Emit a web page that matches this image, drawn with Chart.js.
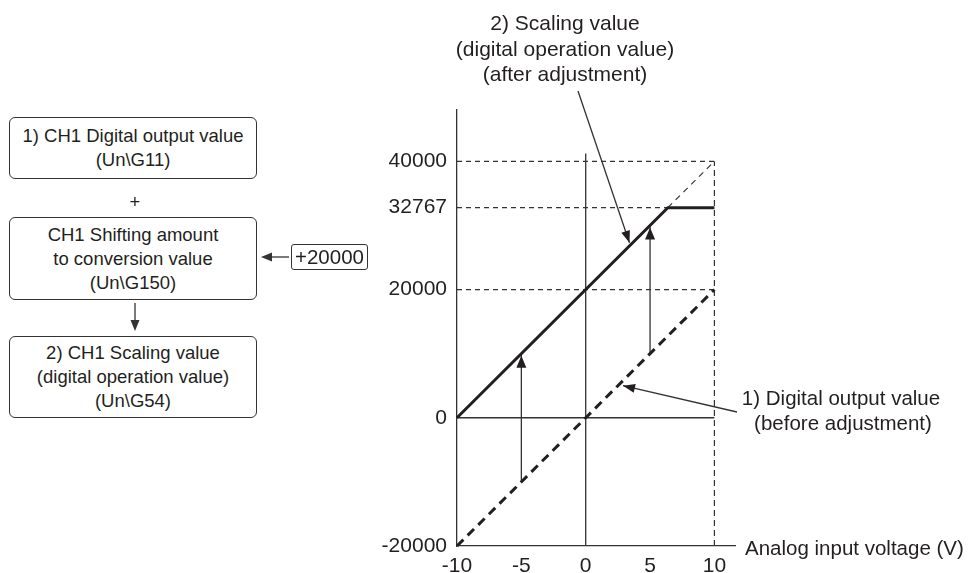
<!DOCTYPE html>
<html>
<head>
<meta charset="utf-8">
<script src="https://cdn.jsdelivr.net/npm/chart.js@4.4.1/dist/chart.umd.min.js"></script>
<style>
  html, body { margin: 0; padding: 0; background: #fff; }
  #wrap { position: relative; width: 974px; height: 573px; overflow: hidden; font-family: "Liberation Sans", Arial, sans-serif; color: #231f20; }
  #chart { position: absolute; left: 0; top: 0; }
  .box { position: absolute; box-sizing: border-box; border: 1.3px solid #333; border-radius: 6px;
         display: flex; align-items: center; justify-content: center; text-align: center;
         font-size: 18.5px; line-height: 24px; background: #fff; }
  .plus { position: absolute; font-size: 18.5px; line-height: 20px; transform: translate(-50%, -50%); }
  .shift { position: absolute; box-sizing: border-box; border: 1.3px solid #333; border-radius: 3px;
           font-size: 20.5px; line-height: 24px; text-align: center; }
  svg { position: absolute; left: 0; top: 0; }
</style>
</head>
<body>
<div id="wrap">
  <canvas id="chart" width="974" height="573"></canvas>
  <div class="box" style="left:9px;top:117px;width:248px;height:62px;">1) CH1 Digital output value<br>(Un\G11)</div>
  <div class="plus" style="left:135px;top:202px;">+</div>
  <div class="box" style="left:9px;top:217px;width:248px;height:83px;">CH1 Shifting amount<br>to conversion value<br>(Un\G150)</div>
  <div class="box" style="left:9px;top:336px;width:248px;height:82px;">2) CH1 Scaling value<br>(digital operation value)<br>(Un\G54)</div>
  <div class="shift" style="left:291px;top:244px;width:77px;height:26px;">+20000</div>
  <svg width="974" height="573">
    <line x1="135" y1="303" x2="135" y2="322" stroke="#333" stroke-width="1.3"/>
    <polygon points="130.5,320 139.5,320 135,331" fill="#333"/>
    <line x1="289" y1="257" x2="270" y2="257" stroke="#333" stroke-width="1.3"/>
    <polygon points="272,252.5 272,261.5 261,257" fill="#333"/>
  </svg>
</div>
<script>
// ---- data ----
const xTickValues = [-10, -5, 0, 5, 10];
const yTickValues = [-20000, 0, 20000, 32767, 40000];
const voltage = [-10, 10];
const digitalOutput = [-20000, 20000];
const scalingVolt = [-10, 6.38, 10];
const scalingValue = [0, 32767, 32767];
const extensionVolt = [6.38, 10];
const extensionValue = [32767, 40000];
const refLevels = [40000, 32767, 20000];
const arrowVolt = [-5, 5];
const arrowFrom = [-10000, 10000];
const arrowTo = [10000, 30000];
const zeroVerticalTop = 41200;
const xMin = -10, xMax = 11.6, yMin = -20000, yMax = 48000;
const annotationTargets = { scaling: { x: 3.4, y: 27300 }, digital: { x: 2.9, y: 5000 } };

const INK = '#231f20';
const FONT = '"Liberation Sans", Arial, sans-serif';

function pts(xs, ys) { return xs.map((x, i) => ({ x: x, y: ys[i] })); }

const datasets = [];
// thick solid: scaling value (after adjustment)
datasets.push({ data: pts(scalingVolt, scalingValue), borderColor: INK, borderWidth: 3, borderJoinStyle: 'miter' });
// thick dashed: digital output (before adjustment)
datasets.push({ data: pts(voltage, digitalOutput), borderColor: INK, borderWidth: 3, borderDash: [9, 6] });
// arrows
arrowVolt.forEach((v, i) => {
  datasets.push({ data: [{ x: v, y: arrowFrom[i] }, { x: v, y: arrowTo[i] }], borderColor: '#333', borderWidth: 1.3, isArrow: true });
});
// thin dashed extension
datasets.push({ data: pts(extensionVolt, extensionValue), borderColor: '#333', borderWidth: 1.2, borderDash: [6, 5] });
// reference dashed horizontals
refLevels.forEach(l => {
  datasets.push({ data: [{ x: voltage[0], y: l }, { x: voltage[1], y: l }], borderColor: '#333', borderWidth: 1.2, borderDash: [5, 4] });
});
// dashed vertical at +10 V
datasets.push({ data: [{ x: voltage[1], y: yMin }, { x: voltage[1], y: refLevels[0] }], borderColor: '#333', borderWidth: 1.2, borderDash: [6, 4] });
// zero lines
datasets.push({ data: [{ x: voltage[0], y: 0 }, { x: voltage[1], y: 0 }], borderColor: '#333', borderWidth: 1.3 });
datasets.push({ data: [{ x: 0, y: yMin }, { x: 0, y: zeroVerticalTop }], borderColor: '#333', borderWidth: 1.3 });

datasets.forEach(d => { d.pointRadius = 0; d.fill = false; d.tension = 0; d.clip = 4; });

function arrowHead(ctx, tx, ty, fx, fy, len, wid) {
  const a = Math.atan2(ty - fy, tx - fx);
  ctx.save();
  ctx.translate(tx, ty);
  ctx.rotate(a);
  ctx.beginPath();
  ctx.moveTo(0, 0);
  ctx.lineTo(-len, -wid / 2);
  ctx.lineTo(-len, wid / 2);
  ctx.closePath();
  ctx.fill();
  ctx.restore();
}

const overlay = {
  id: 'overlay',
  afterDatasetsDraw(chart) {
    const ctx = chart.ctx;
    const xs = chart.scales.x, ys = chart.scales.y;
    ctx.save();
    ctx.fillStyle = INK;
    ctx.strokeStyle = '#333';
    // arrowheads on vertical arrows
    chart.data.datasets.forEach(d => {
      if (!d.isArrow) return;
      const p0 = d.data[0], p1 = d.data[1];
      const fx = xs.getPixelForValue(p0.x), fy = ys.getPixelForValue(p0.y);
      const tx = xs.getPixelForValue(p1.x), ty = ys.getPixelForValue(p1.y) + 2;
      arrowHead(ctx, tx, ty, fx, fy, 12, 10);
    });
    // leader lines
    ctx.lineWidth = 1.3;
    const t2 = annotationTargets.scaling;
    const t2x = xs.getPixelForValue(t2.x), t2y = ys.getPixelForValue(t2.y);
    const s2x = 578, s2y = 91;
    ctx.beginPath(); ctx.moveTo(s2x, s2y); ctx.lineTo(t2x, t2y); ctx.stroke();
    arrowHead(ctx, t2x, t2y, s2x, s2y, 12, 9);
    const t1 = annotationTargets.digital;
    const t1x = xs.getPixelForValue(t1.x), t1y = ys.getPixelForValue(t1.y);
    const s1x = 737, s1y = 412;
    ctx.beginPath(); ctx.moveTo(s1x, s1y); ctx.lineTo(t1x, t1y); ctx.stroke();
    arrowHead(ctx, t1x, t1y, s1x, s1y, 12, 9);
    // texts
    ctx.textBaseline = 'middle';
    ctx.textAlign = 'center';
    ctx.font = '21px ' + FONT;
    ctx.fillText('2) Scaling value', 565, 24);
    ctx.fillText('(digital operation value)', 565, 50);
    ctx.fillText('(after adjustment)', 565, 75);
    ctx.font = '20.5px ' + FONT;
    ctx.fillText('1) Digital output value', 841, 399);
    ctx.fillText('(before adjustment)', 843, 424);
    ctx.textAlign = 'left';
    ctx.fillText('Analog input voltage (V)', 745, ys.getPixelForValue(yMin) + 3);
    ctx.restore();
  }
};

new Chart(document.getElementById('chart'), {
  type: 'line',
  data: { datasets: datasets },
  options: {
    responsive: false,
    animation: false,
    events: [],
    layout: { padding: { left: 0, top: 110, right: 239, bottom: 0 } },
    plugins: { legend: { display: false }, tooltip: { enabled: false } },
    scales: {
      x: {
        type: 'linear', position: 'bottom', min: xMin, max: xMax,
        afterBuildTicks: s => { s.ticks = xTickValues.map(v => ({ value: v })); },
        afterFit: s => { s.height = 27; },
        grid: { display: false, drawTicks: false, tickLength: 0 },
        border: { display: true, color: '#333', width: 1.3 },
        ticks: { color: INK, font: { family: FONT, size: 21 }, padding: 8, maxRotation: 0, autoSkip: false }
      },
      y: {
        type: 'linear', position: 'left', min: yMin, max: yMax,
        afterBuildTicks: s => { s.ticks = yTickValues.map(v => ({ value: v })); },
        afterFit: s => { s.width = 457; },
        grid: { display: false, drawTicks: false, tickLength: 0 },
        border: { display: true, color: '#333', width: 1.3 },
        ticks: { color: INK, font: { family: FONT, size: 21 }, padding: 10, autoSkip: false, callback: v => String(v) }
      }
    }
  },
  plugins: [overlay]
});
</script>
</body>
</html>
